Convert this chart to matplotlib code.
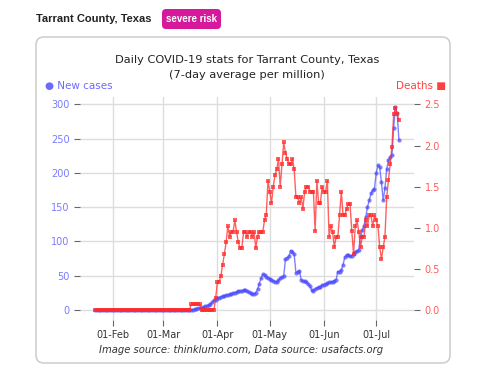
import matplotlib
matplotlib.use('Agg')
import matplotlib.pyplot as plt
import matplotlib.dates as mdates
from matplotlib.patches import FancyBboxPatch
from matplotlib.transforms import IdentityTransform
import numpy as np
import pandas as pd

# daily values, 22 Jan - 14 Jul 2020 (7-day average per million)
dates = pd.date_range('2020-01-22', '2020-07-14')

cases_pre = [0] * 55  # 22 Jan - 16 Mar
cases_mar = [0.3, 0.5, 1, 1.5, 2, 2.5, 3, 4, 5, 6.3, 7.5, 8.7, 11, 14, 15]  # 17-31 Mar
cases_apr = [17, 18, 19, 20, 20.5, 21.3, 22, 22.5, 23.5, 24.5, 25.3, 26, 27.5, 27.5, 27,
             29.5, 29, 27.5, 25.5, 24.5, 23.5, 23, 25, 30, 38, 46, 52, 50.5, 48.5, 46.5]
cases_may = [45, 44, 42.5, 41, 41, 43, 46, 48.5, 49, 74, 76, 78, 86.5, 85, 81, 54,
             56, 57, 44, 42, 41.5, 41, 38, 35, 29, 27.5, 30, 32, 33, 34, 36]
cases_jun = [37, 38, 39, 40, 40, 41, 42.5, 44, 56, 56, 58, 66, 77, 80, 80, 78, 79, 82,
             85, 85.5, 88, 108, 116, 123, 136, 150, 160, 170, 175, 177]
cases_jul = [200, 211, 208, 186, 160, 178, 205, 219, 223, 226, 266, 296, 287, 248]

deaths_pre = [0] * 55 + [0.068] * 6 + [0] * 8 + [0.14]  # 22 Jan - 31 Mar
deaths_apr = [0.34, 0.34, 0.41, 0.55, 0.68, 0.82, 1.02, 0.89, 0.95, 0.95, 1.09, 0.95,
              0.82, 0.75, 0.75, 0.95, 0.95, 0.89, 0.95, 0.95, 0.89, 0.95, 0.75, 0.89,
              0.95, 0.95, 0.95, 1.09, 1.16, 1.57]
deaths_may = [1.44, 1.30, 1.50, 1.64, 1.71, 1.84, 1.50, 1.77, 2.04, 1.91, 1.84, 1.77,
              1.77, 1.84, 1.71, 1.37, 1.37, 1.30, 1.37, 1.23, 1.44, 1.50, 1.50, 1.44,
              1.44, 1.44, 0.96, 1.57, 1.30, 1.30, 1.50, 1.44, 1.44, 1.57]  # to 3 Jun
deaths_jun = [0.89, 1.02, 0.95, 0.76, 0.89, 0.89, 1.15, 1.44, 1.15, 1.15, 1.23, 1.29,
              1.29, 0.96, 0.68, 1.02, 1.09, 0.95, 0.76, 0.89, 0.89, 1.09, 1.02, 1.15,
              1.15, 1.02, 1.15]  # 4-30 Jun
deaths_jul = [1.09, 1.02, 0.76, 0.62, 0.76, 0.89, 1.37, 1.58, 1.77, 1.98, 2.38, 2.46,
              2.38, 2.31]

cases = cases_pre + cases_mar + cases_apr + cases_may + cases_jun + cases_jul
deaths = deaths_pre + deaths_apr + deaths_may + deaths_jun + deaths_jul

blue = '#4b4bff'
red = '#ff2b2b'

fig = plt.figure(figsize=(4.8, 3.71), dpi=100)

# card + header badge (pixel coords)
card = FancyBboxPatch((36, 8), 414, 326, boxstyle='round,pad=0,rounding_size=8',
                      transform=IdentityTransform(), ec='#d0d0d0', fc='white', lw=1.2,
                      zorder=-5)
fig.patches.append(card)
badge = FancyBboxPatch((162, 342), 59, 20, boxstyle='round,pad=0,rounding_size=4',
                       transform=IdentityTransform(), ec='none', fc='#d6199b', zorder=-5)
fig.patches.append(badge)
fig.text(36 / 480, 1 - 18.5 / 371, 'Tarrant County, Texas', family='Liberation Sans',
         weight='bold', size=8, va='center', color='#222222')
fig.text(191.5 / 480, 1 - 19 / 371, 'severe risk', family='Liberation Sans',
         weight='bold', size=7, va='center', ha='center', color='white')

ax = fig.add_axes([0.1667, 0.1375, 0.696, 0.601])
ax.patch.set_visible(False)
ax.plot(dates, cases, '-o', color=blue, ms=3, lw=1, alpha=0.7, mew=0)
ax2 = ax.twinx()
ax2.plot(dates, deaths, '-s', color=red, ms=3, lw=1, alpha=0.75, mew=0)

ax.set_ylim(-14.8, 310.8)
ax.set_yticks(range(0, 301, 50))
ax2.set_ylim(-0.1233, 2.59)
ax2.set_yticks(np.arange(0, 2.51, 0.5))
ax2.yaxis.set_major_formatter(matplotlib.ticker.FormatStrFormatter('%.1f'))

ax.xaxis.set_major_locator(mdates.MonthLocator())
ax.xaxis.set_major_formatter(mdates.DateFormatter('%d-%b'))

ax.grid(True, color='#dddddd', lw=1)
ax.set_axisbelow(True)
for a in (ax, ax2):
    for s in a.spines.values():
        s.set_visible(False)
ax.tick_params(axis='y', color='#666666', labelcolor='#7a7aff', length=4, labelsize=7)
ax2.tick_params(axis='y', color='#666666', labelcolor='#ff5a5a', length=4, labelsize=7)
ax.tick_params(axis='x', color='#666666', labelcolor='#333333', length=4, labelsize=7)

fig.text(247 / 480, 1 - 60 / 371, 'Daily COVID-19 stats for Tarrant County, Texas',
         ha='center', va='center', size=8.2, color='#222222')
fig.text(247 / 480, 1 - 75 / 371, '(7-day average per million)',
         ha='center', va='center', size=8.2, color='#222222')
fig.text(45 / 480, 1 - 86 / 371, '\u25cf New cases', color='#6a6aff', size=7.5, va='center')
fig.text(446 / 480, 1 - 86 / 371, 'Deaths \u25a0', color='#ff4040', size=7.5,
         va='center', ha='right')
fig.text(241 / 480, 1 - 350 / 371, 'Image source: thinklumo.com, Data source: usafacts.org',
         ha='center', va='center', size=7.2, style='italic', color='#333333')

fig.savefig('out.png', dpi=100)
